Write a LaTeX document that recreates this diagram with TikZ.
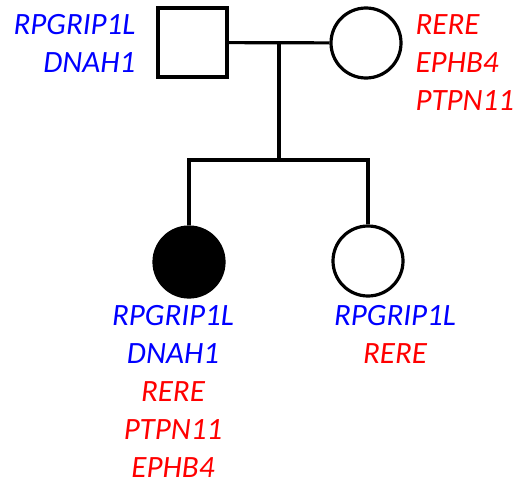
\documentclass[tikz,border=0pt]{standalone}
\usepackage{fontspec}
\setmainfont{Carlito}
\definecolor{geneblue}{RGB}{0,0,255}
\definecolor{genered}{RGB}{255,0,0}
\begin{document}
\begin{tikzpicture}[x=1pt, y=-1pt, line width=3.2pt,
    male/.style={draw, rectangle, minimum size=69pt, inner sep=0pt},
    female/.style={draw, circle, minimum size=70pt, inner sep=0pt},
    affected/.style={fill=black},
    gene/.style={font=\fontsize{31}{38}\selectfont\itshape, inner sep=0pt}]
    \useasboundingbox (0,0) rectangle (526,495);

    % Padres
    \node[male] (father) at (192.5,42.5) {};
    \node[female] (mother) at (366,43) {};
    \coordinate (mid) at (279,43);
    \coordinate (sib) at (279,160);

    % Hijas
    \node[female, affected] (proband) at (189,262) {};
    \node[female] (sister) at (368,261) {};

    % Lineas
    \draw (father) -- (mother);
    \draw (mid) -- (sib);
    \draw (proband.north) |- (sib) -| (sister.north);

    % Genes
    \node[gene, anchor=base east, align=right] (fatherg) at (137,72)
        {\color{geneblue}RPGRIP1L\\\color{geneblue}DNAH1};
    \node[gene, anchor=base west, align=left] (motherg) at (414,110)
        {\color{genered}RERE\\\color{genered}EPHB4\\\color{genered}PTPN11};
    \node[gene, anchor=base, align=center] (probandg) at (173,477)
        {\color{geneblue}RPGRIP1L\\\color{geneblue}DNAH1\\\color{genered}RERE\\\color{genered}PTPN11\\\color{genered}EPHB4};
    \node[gene, anchor=base, align=center] (sisterg) at (395,363)
        {\color{geneblue}RPGRIP1L\\\color{genered}RERE};

\end{tikzpicture}
\end{document}
